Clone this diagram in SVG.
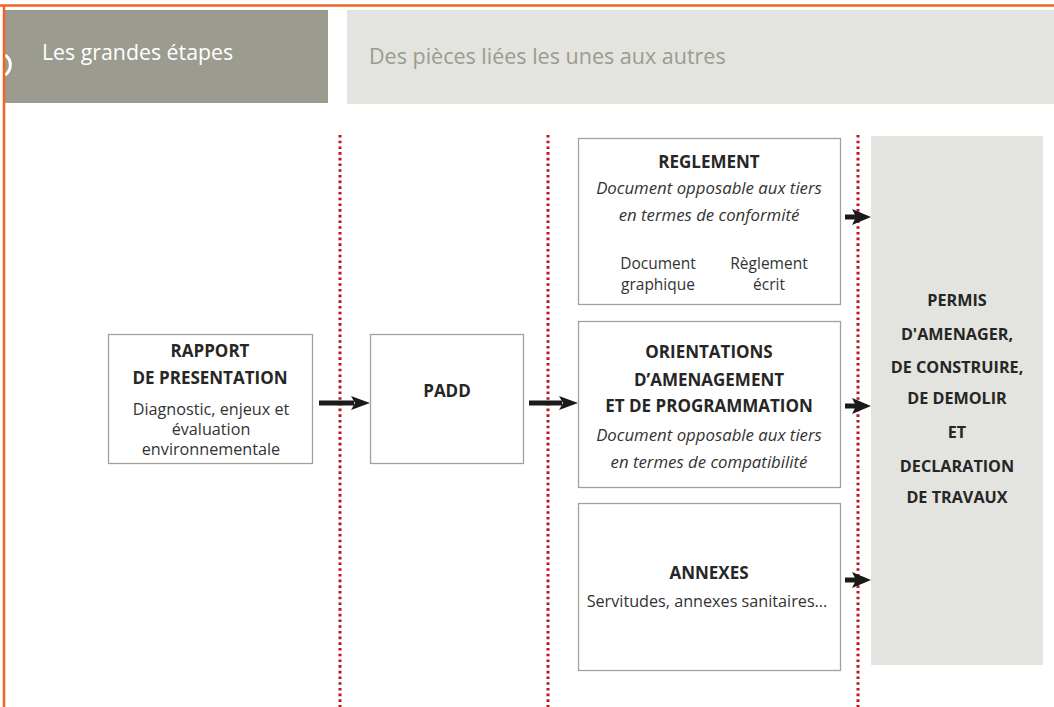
<svg xmlns="http://www.w3.org/2000/svg" width="1054" height="707" viewBox="0 0 1054 707">
<defs>
<style>
.box{fill:#ffffff;stroke:#a3a297;stroke-width:1.3}
.t{font-family:"Open Sans","Liberation Sans",sans-serif;fill:#262626;text-anchor:middle}
.b{font-weight:bold;font-size:17px}
.r{font-size:16.2px;fill:#333333}
.s{font-size:15.5px;fill:#333333}
.i{font-style:italic;font-size:16.8px;fill:#333333}
.pb{font-weight:bold;font-size:16.2px}
.dot{stroke:#c0141e;stroke-width:3;stroke-dasharray:2.6 3.1;fill:none}
.shaft{stroke:#1a1a1a;stroke-width:5;fill:none}
.head{fill:#1a1a1a}
</style>
</defs>
<rect x="0" y="0" width="1054" height="707" fill="#ffffff"/>
<!-- header bars -->
<g id="header-left">
<rect x="5" y="10" width="323" height="93" fill="#9b9b8f"/>
<path d="M5 55 A12 12 0 0 1 5 75" fill="none" stroke="#ffffff" stroke-width="3"/>
<text x="42" y="60" font-family="Open Sans, Liberation Sans, sans-serif" font-size="21.3" fill="#ffffff">Les grandes étapes</text>
</g>
<g id="header-right">
<rect x="347" y="10" width="707" height="94" fill="#e3e3df"/>
<text x="369" y="64" font-family="Open Sans, Liberation Sans, sans-serif" font-size="21.5" fill="#9b9b8f">Des pièces liées les unes aux autres</text>
</g>
<!-- frame -->
<g id="frame">
<line x1="0" y1="5.5" x2="1054" y2="5.5" stroke="#f26522" stroke-width="2.5"/>
<line x1="4" y1="5" x2="4" y2="707" stroke="#f26522" stroke-width="2.5"/>
</g>
<!-- dotted separators -->
<g id="separators">
<line class="dot" x1="340" y1="135" x2="340" y2="707"/>
<line class="dot" x1="548" y1="135" x2="548" y2="707"/>
<line class="dot" x1="858" y1="135" x2="858" y2="707"/>
</g>
<g id="permis">
<rect x="871" y="136" width="172" height="529" fill="#e3e3df"/>
<text class="t pb" x="957" y="306">PERMIS</text>
<text class="t pb" x="957" y="340">D'AMENAGER,</text>
<text class="t pb" x="957" y="373">DE CONSTRUIRE,</text>
<text class="t pb" x="957" y="404">DE DEMOLIR</text>
<text class="t pb" x="957" y="438">ET</text>
<text class="t pb" x="957" y="472">DECLARATION</text>
<text class="t pb" x="957" y="503">DE TRAVAUX</text>
</g>
<g id="rapport">
<rect class="box" x="108.5" y="334.5" width="204" height="129"/>
<text class="t b" x="210" y="357">RAPPORT</text>
<text class="t b" x="210" y="384">DE PRESENTATION</text>
<text class="t r" x="211" y="415">Diagnostic, enjeux et</text>
<text class="t r" x="211" y="435">évaluation</text>
<text class="t r" x="211" y="455">environnementale</text>
</g>
<g id="padd">
<rect class="box" x="370.5" y="334.5" width="153" height="129"/>
<text class="t b" x="447" y="397">PADD</text>
</g>
<g id="reglement">
<rect class="box" x="578.5" y="138.5" width="262" height="166"/>
<text class="t b" x="709" y="168">REGLEMENT</text>
<text class="t i" x="709" y="194">Document opposable aux tiers</text>
<text class="t i" x="709" y="221">en termes de conformité</text>
<text class="t s" x="658" y="269">Document</text>
<text class="t s" x="658" y="290">graphique</text>
<text class="t s" x="769" y="269">Règlement</text>
<text class="t s" x="769" y="290">écrit</text>
</g>
<g id="orientations">
<rect class="box" x="578.5" y="321.5" width="262" height="166"/>
<text class="t b" x="709" y="358">ORIENTATIONS</text>
<text class="t b" x="709" y="386">D’AMENAGEMENT</text>
<text class="t b" x="709" y="412">ET DE PROGRAMMATION</text>
<text class="t i" x="709" y="441">Document opposable aux tiers</text>
<text class="t i" x="709" y="468">en termes de compatibilité</text>
</g>
<g id="annexes">
<rect class="box" x="578.5" y="503.5" width="262" height="167"/>
<text class="t b" x="709" y="579">ANNEXES</text>
<text class="t r" x="707" y="607">Servitudes, annexes sanitaires...</text>
</g>
<!-- connectors -->
<g id="connectors">
<line class="shaft" x1="319" y1="403" x2="354" y2="403"/>
<path class="head" d="M351 396 L370 403 L351 410 L355 403 Z"/>
<line class="shaft" x1="529" y1="403" x2="562" y2="403"/>
<path class="head" d="M559 396 L578 403 L559 410 L563 403 Z"/>
<line class="shaft" x1="845" y1="217" x2="858" y2="217"/>
<path class="head" d="M852 209 L871 217 L852 225 L856 217 Z"/>
<line class="shaft" x1="845" y1="406" x2="858" y2="406"/>
<path class="head" d="M852 398 L871 406 L852 414 L856 406 Z"/>
<line class="shaft" x1="845" y1="580" x2="858" y2="580"/>
<path class="head" d="M852 572 L871 580 L852 588 L856 580 Z"/>
</g>
</svg>
